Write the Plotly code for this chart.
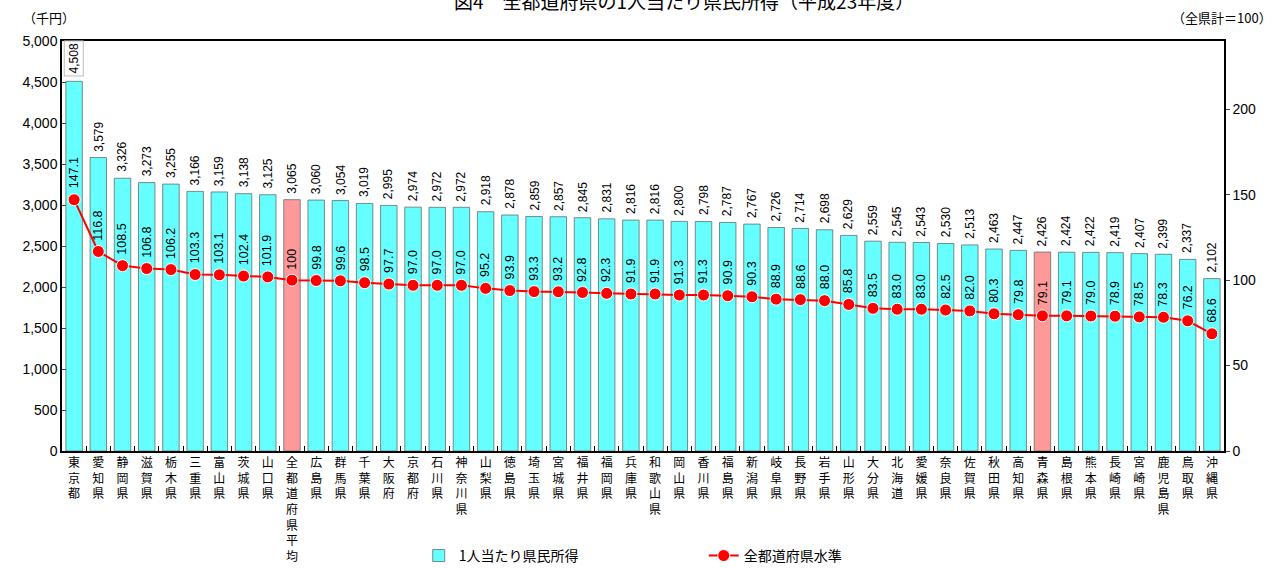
import plotly.graph_objects as go

prefectures = ["東京都", "愛知県", "静岡県", "滋賀県", "栃木県", "三重県", "富山県", "茨城県", "山口県",
               "全都道府県平均", "広島県", "群馬県", "千葉県", "大阪府", "京都府", "石川県", "神奈川県",
               "山梨県", "徳島県", "埼玉県", "宮城県", "福井県", "福岡県", "兵庫県", "和歌山県", "岡山県",
               "香川県", "福島県", "新潟県", "岐阜県", "長野県", "岩手県", "山形県", "大分県", "北海道",
               "愛媛県", "奈良県", "佐賀県", "秋田県", "高知県", "青森県", "島根県", "熊本県", "長崎県",
               "宮崎県", "鹿児島県", "鳥取県", "沖縄県"]
income = [4508, 3579, 3326, 3273, 3255, 3166, 3159, 3138, 3125, 3065, 3060, 3054, 3019, 2995, 2974,
          2972, 2972, 2918, 2878, 2859, 2857, 2845, 2831, 2816, 2816, 2800, 2798, 2787, 2767, 2726,
          2714, 2698, 2629, 2559, 2545, 2543, 2530, 2513, 2463, 2447, 2426, 2424, 2422, 2419, 2407,
          2399, 2337, 2102]
index_level = [147.1, 116.8, 108.5, 106.8, 106.2, 103.3, 103.1, 102.4, 101.9, 100, 99.8, 99.6, 98.5,
               97.7, 97.0, 97.0, 97.0, 95.2, 93.9, 93.3, 93.2, 92.8, 92.3, 91.9, 91.9, 91.3, 91.3, 90.9,
               90.3, 88.9, 88.6, 88.0, 85.8, 83.5, 83.0, 83.0, 82.5, 82.0, 80.3, 79.8, 79.1, 79.1, 79.0,
               78.9, 78.5, 78.3, 76.2, 68.6]
index_labels = ["100" if v == 100 else f"{v:.1f}" for v in index_level]
highlight = ["全都道府県平均", "青森県"]

FONT = "Liberation Sans, Arial, Noto Sans CJK JP, sans-serif"
JFONT = "Noto Sans CJK JP, sans-serif"

bar_colors = ["#FF9999" if p in highlight else "#66FFFF" for p in prefectures]
tick_text = ["<br>".join(list(p)) for p in prefectures]

fig = go.Figure()
fig.add_trace(go.Bar(
    x=prefectures, y=income, name="1人当たり県民所得",
    marker=dict(color=bar_colors, line=dict(color="#607070", width=0.8)),
    yaxis="y",
))
fig.add_trace(go.Scatter(
    x=prefectures, y=index_level, name="全都道府県水準", yaxis="y2",
    mode="lines+markers",
    line=dict(color="#FF0000", width=2),
    marker=dict(color="#FF0000", size=12, line=dict(color="white", width=1)),
    cliponaxis=False,
))

annotations = []
for i, (p, v) in enumerate(zip(prefectures, income)):
    a = dict(x=p, y=v, xref="x", yref="y", text=f"{v:,}", showarrow=False,
             textangle=-90, yanchor="bottom", xanchor="center", yshift=4,
             font=dict(family=FONT, size=12, color="black"))
    if i == 0:
        a.update(bordercolor="#BBBBBB", borderwidth=1, bgcolor="white", borderpad=2, yshift=5)
    annotations.append(a)
for p, v, t in zip(prefectures, index_level, index_labels):
    annotations.append(dict(x=p, y=v, xref="x", yref="y2", text=t, showarrow=False,
                            textangle=-90, yanchor="bottom", xanchor="center", yshift=9,
                            font=dict(family=FONT, size=12.5, color="black")))
annotations += [
    dict(x=0.535, y=1.098, xref="paper", yref="paper", text="図4　全都道府県の1人当たり県民所得（平成23年度）",
         showarrow=False, xanchor="center", yanchor="middle",
         font=dict(family=JFONT, size=19, color="black")),
    dict(x=-0.035, y=1.058, xref="paper", yref="paper", text="（千円）", showarrow=False,
         xanchor="left", yanchor="middle", font=dict(family=JFONT, size=13, color="black")),
    dict(x=1.043, y=1.058, xref="paper", yref="paper", text="（全県計＝100）", showarrow=False,
         xanchor="right", yanchor="middle", font=dict(family=JFONT, size=13, color="black")),
]

fig.update_layout(
    width=1279, height=568,
    margin=dict(l=62, r=55, t=41, b=117, autoexpand=False),
    plot_bgcolor="white", paper_bgcolor="white",
    bargap=0.32,
    showlegend=True,
    legend=dict(orientation="h", x=0.307, y=-0.256, xanchor="left", yanchor="middle",
                font=dict(family=JFONT, size=14, color="black"), entrywidth=240,
                bgcolor="rgba(0,0,0,0)"),
    annotations=annotations,
    xaxis=dict(type="category", tickmode="array", tickvals=prefectures, ticktext=tick_text,
               range=[-0.5, len(prefectures) - 0.5],
               tickson="boundaries", ticks="inside", ticklen=5, tickcolor="black",
               showline=True, linecolor="black", linewidth=1.5, mirror=True,
               showgrid=False, tickangle=0, automargin=False,
               tickfont=dict(family=JFONT, size=12, color="black")),
    yaxis=dict(range=[0, 5000], dtick=500, tickformat=",", ticks="inside", ticklen=4,
               showline=True, linecolor="black", linewidth=1.5, showgrid=False, zeroline=False,
               automargin=False,
               tickfont=dict(family=FONT, size=14, color="black")),
    yaxis2=dict(range=[0, 240], tickvals=[0, 50, 100, 150, 200], overlaying="y", side="right",
                ticks="outside", ticklen=4, showline=True, linecolor="black", linewidth=1.5,
                showgrid=False, zeroline=False, automargin=False,
                tickfont=dict(family=FONT, size=14, color="black")),
)

fig.write_html("out.html")
